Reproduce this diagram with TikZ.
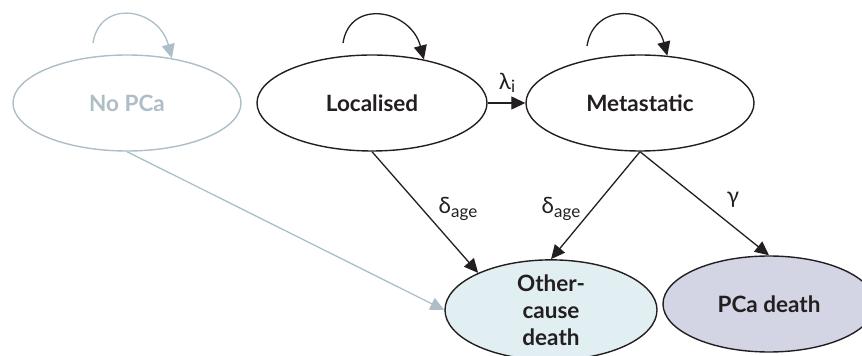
\documentclass[tikz,border=0pt]{standalone}
\usepackage{fontspec}
\setmainfont{Lato}
\usetikzlibrary{arrows.meta,shapes.geometric}

\definecolor{ink}{HTML}{231F20}
\definecolor{faded}{HTML}{ADBEC6}
\definecolor{otherfill}{HTML}{E1EEF2}
\definecolor{pcafill}{HTML}{D3D4E4}

% subscript for the transition rates
\newcommand{\ratesub}[1]{\raisebox{-0.32ex}{\fontsize{17}{17}\selectfont #1}}

\tikzset{
  state/.style={ellipse, draw=ink, line width=1.4pt, inner sep=0pt,
    text=ink, font=\fontsize{22.5}{27}\selectfont\bfseries, align=center},
  ghost/.style={state, draw=faded, text=faded},
  trans/.style={draw=ink, line width=1.3pt,
    -{Triangle[length=14pt,width=13pt]}},
  ghosttrans/.style={trans, draw=faded, -{Triangle[length=14pt,width=13pt,fill=faded]}},
  rate/.style={text=ink, font=\fontsize{22.5}{26}\selectfont, inner sep=0pt}
}

\begin{document}
\begin{tikzpicture}[x=1pt,y=1pt]
  \useasboundingbox (0,0) rectangle (862,356);

  % health states
  \node[ghost, minimum width=228pt, minimum height=96pt] (nopca) at (127,253) {No PCa};
  \node[state, minimum width=230pt, minimum height=96pt] (loc) at (372,253) {Localised};
  \node[state, minimum width=228pt, minimum height=96pt] (met) at (640,253) {Metastatic};
  \node[state, fill=otherfill, minimum width=212pt, minimum height=100pt] (other) at (551,46) {Other-\\cause\\death};
  \node[state, fill=pcafill, minimum width=212pt, minimum height=96pt] (pcad) at (769,52) {PCa death};

  % start points of the stay-in-state loops
  \coordinate (nopcaloop) at (93,313);
  \coordinate (locloop) at (343,313);
  \coordinate (metloop) at (587,310);

  % stay-in-state loops
  \draw[ghosttrans] (nopcaloop) .. controls +(7,45) and +(-13,50) .. (nopca.45);
  \draw[trans] (locloop) .. controls +(7,45) and +(-13,50) .. (loc.40);
  \draw[trans] (metloop) .. controls +(7,45) and +(-13,50) .. (met.60);

  % transitions
  \draw[trans] (loc.east) -- (met.west);
  \draw[ghosttrans] (nopca.south) -- (other.west);
  \draw[trans] (loc.south) -- (other.153);
  \draw[trans] (met.south) -- (other.north);
  \draw[trans] (met.south) -- (pcad.north);

  % transition rates
  \node[rate] (lam) at (507,273) {λ\ratesub{i}};
  \node[rate] (dleft) at (458,147) {δ\ratesub{age}};
  \node[rate] (dright) at (561,147) {δ\ratesub{age}};
  \node[rate] (gam) at (733,156) {γ};
\end{tikzpicture}
\end{document}
